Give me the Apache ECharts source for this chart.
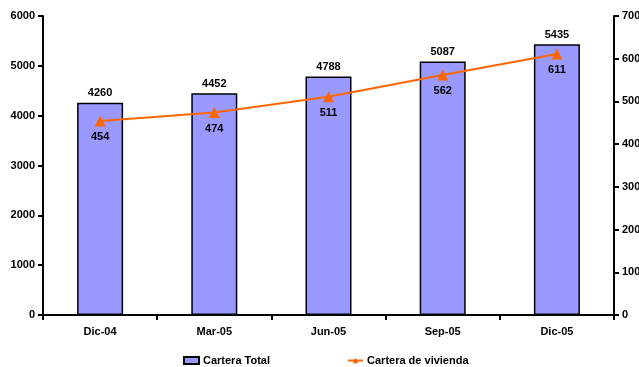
<!DOCTYPE html>
<html><head><meta charset="utf-8">
<script src="https://cdn.jsdelivr.net/npm/echarts@6/dist/echarts.min.js"></script>
<style>html,body{margin:0;padding:0;background:#fff}#c{width:639px;height:367px}</style>
</head><body><div id="c"></div>
<script>
const categories = ['Dic-04','Mar-05','Jun-05','Sep-05','Dic-05'];
const carteraTotal = [4260, 4452, 4788, 5087, 5435];
const carteraVivienda = [454, 474, 511, 562, 611];
const seriesNames = ['Cartera Total', 'Cartera de vivienda'];

const font = 'Liberation Sans, Arial, sans-serif';
const chart = echarts.init(document.getElementById('c'), null, {renderer:'canvas'});
chart.setOption({
  animation: false,
  textStyle: {fontFamily: font},
  grid: {left: 43, right: 25, top: 16, bottom: 52, containLabel: false, outerBoundsMode: 'none'},
  legend: {
    top: 355, left: 183, padding: 0, itemGap: 77, itemWidth: 15, itemHeight: 7,
    textStyle: {fontFamily: font, fontWeight: 'bold', fontSize: 11, color: '#000', padding: [0,0,0,-1]},
    data: [
      {name: seriesNames[0], icon: 'rect'},
      {name: seriesNames[1]}
    ]
  },
  xAxis: {
    type: 'category', data: categories,
    axisLine: {lineStyle: {color: '#000', width: 2}},
    axisTick: {show: true, length: 5, lineStyle: {color: '#000', width: 2}},
    axisLabel: {color: '#000', fontWeight: 'bold', fontSize: 11, margin: 11, fontFamily: font}
  },
  yAxis: [
    {type: 'value', min: 0, max: 6000, interval: 1000,
     axisLine: {show: true, lineStyle: {color: '#000', width: 2}},
     axisTick: {show: true, length: 5, lineStyle: {color: '#000', width: 2}},
     splitLine: {show: false},
     axisLabel: {color: '#000', fontWeight: 'bold', fontSize: 11, margin: 8, fontFamily: font,
                 formatter: v => String(v)}},
    {type: 'value', min: 0, max: 700, interval: 100, position: 'right',
     axisLine: {show: true, lineStyle: {color: '#000', width: 2}},
     axisTick: {show: true, length: 5, lineStyle: {color: '#000', width: 2}},
     splitLine: {show: false},
     axisLabel: {color: '#000', fontWeight: 'bold', fontSize: 11, margin: 8, fontFamily: font,
                 formatter: v => String(v)}}
  ],
  series: [
    {name: seriesNames[0], type: 'bar', data: carteraTotal, barWidth: 46,
     itemStyle: {color: '#9999FF', borderColor: '#000', borderWidth: 1.5},
     label: {show: true, position: 'top', color: '#000', fontWeight: 'bold', fontSize: 11, distance: 4, fontFamily: font}},
    {name: seriesNames[1], type: 'line', yAxisIndex: 1, data: carteraVivienda,
     symbol: 'triangle', symbolSize: 11,
     lineStyle: {color: '#FF6600', width: 2},
     itemStyle: {color: '#FF6600'},
     label: {show: true, position: 'bottom', color: '#000', fontWeight: 'bold', fontSize: 11, distance: 5, fontFamily: font}}
  ]
});
</script></body></html>
